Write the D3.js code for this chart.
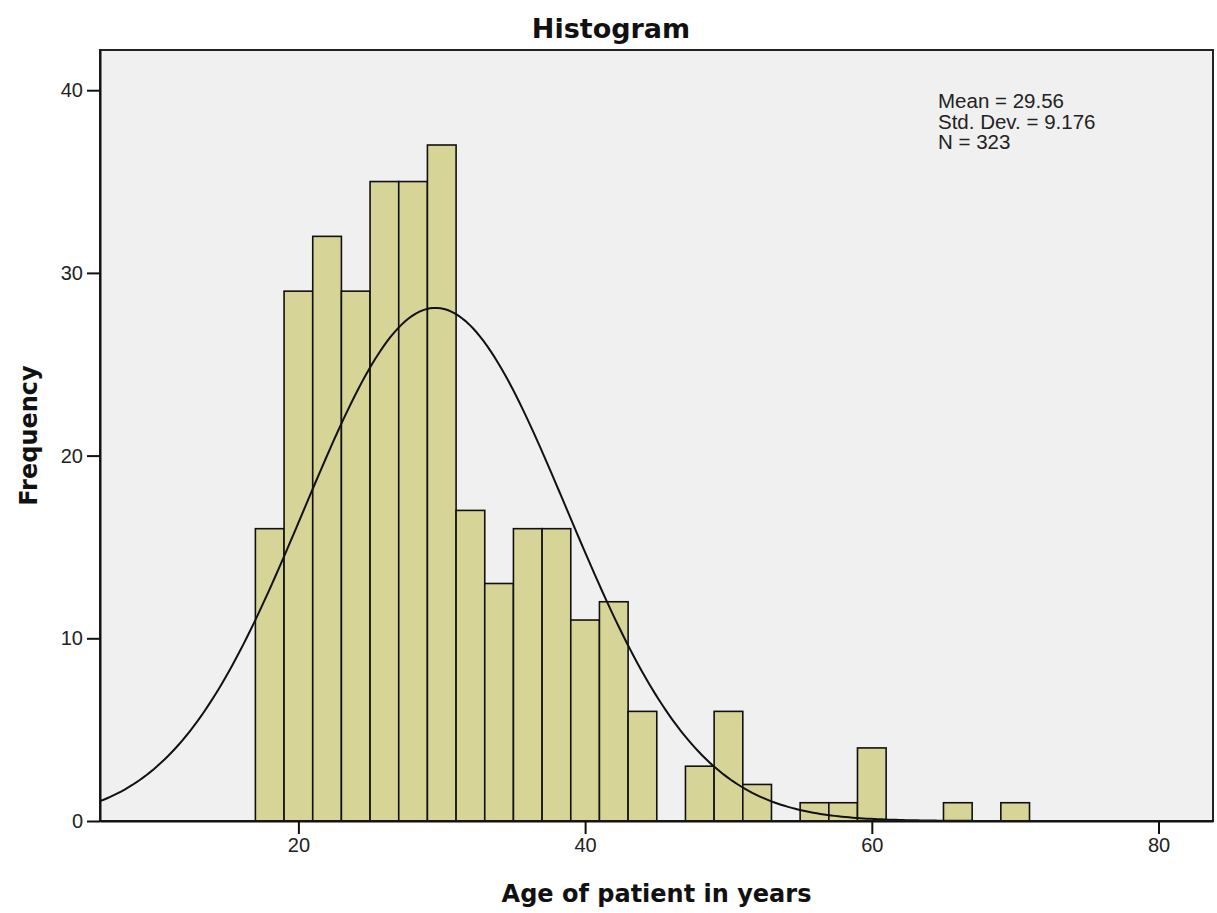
<!DOCTYPE html>
<html>
<head>
<meta charset="utf-8">
<script src="https://cdn.jsdelivr.net/npm/d3@7"></script>
<style>
  html, body { margin: 0; padding: 0; background: #ffffff; }
  svg { display: block; }
</style>
</head>
<body>
<svg id="chart" width="1217" height="913"></svg>
<script>
// ---- Data ----
const binStarts = [17, 19, 21, 23, 25, 27, 29, 31, 33, 35, 37, 39, 41, 43, 45, 47, 49, 51, 53, 55, 57, 59, 61, 63, 65, 67, 69];
const binCounts = [16, 29, 32, 29, 35, 35, 37, 17, 13, 16, 16, 11, 12, 6, 0, 3, 6, 2, 0, 1, 1, 4, 0, 0, 1, 0, 1];
const binWidth = 2;
const xTicks = [20, 40, 60, 80];
const yTicks = [0, 10, 20, 30, 40];
const statsLines = ["Mean = 29.56", "Std. Dev. = 9.176", "N = 323"];
const meanVal = 29.56, sdVal = 9.176, nVal = 323;

// ---- Layout ----
const svg = d3.select("#chart");
const plot = { left: 100, right: 1213, top: 50, bottom: 821 };

const x = d3.scaleLinear().domain([6.16, 83.8]).range([plot.left, plot.right]);
const y = d3.scaleLinear().domain([0, 42.2]).range([plot.bottom, plot.top]);

// plot background
svg.append("rect")
  .attr("x", plot.left).attr("y", plot.top)
  .attr("width", plot.right - plot.left).attr("height", plot.bottom - plot.top)
  .attr("fill", "#f0f0f0");

// bars
const bins = binStarts.map((s, i) => ({ x0: s, x1: s + binWidth, n: binCounts[i] })).filter(d => d.n > 0);
svg.append("g").selectAll("rect").data(bins).join("rect")
  .attr("x", d => x(d.x0))
  .attr("y", d => y(d.n))
  .attr("width", d => x(d.x1) - x(d.x0))
  .attr("height", d => y(0) - y(d.n))
  .attr("fill", "#d6d597")
  .attr("stroke", "#111")
  .attr("stroke-width", 1.6);

// normal curve from displayed statistics
const curveXs = d3.range(6.16, 83.8, 0.25);
const normal = v => nVal * binWidth / (sdVal * Math.sqrt(2 * Math.PI)) * Math.exp(-0.5 * ((v - meanVal) / sdVal) ** 2);
svg.append("path")
  .datum(curveXs)
  .attr("fill", "none")
  .attr("stroke", "#111")
  .attr("stroke-width", 2)
  .attr("d", d3.line().x(d => x(d)).y(d => y(normal(d))));

// frame (top & right)
svg.append("rect")
  .attr("x", plot.left).attr("y", plot.top)
  .attr("width", plot.right - plot.left).attr("height", plot.bottom - plot.top)
  .attr("fill", "none").attr("stroke", "#222").attr("stroke-width", 2);

// axes
const xAxis = svg.append("g")
  .attr("transform", `translate(0,${plot.bottom})`)
  .call(d3.axisBottom(x).tickValues(xTicks).tickSize(13).tickSizeOuter(0).tickPadding(4).tickFormat(d3.format("d")));
const yAxis = svg.append("g")
  .attr("transform", `translate(${plot.left},0)`)
  .call(d3.axisLeft(y).tickValues(yTicks).tickSize(13).tickSizeOuter(0).tickPadding(4).tickFormat(d3.format("d")));

[xAxis, yAxis].forEach(g => {
  g.select(".domain").attr("stroke", "#111").attr("stroke-width", 2);
  g.selectAll(".tick line").attr("stroke", "#111").attr("stroke-width", 2);
  g.selectAll(".tick text")
    .attr("fill", "#222")
    .style("font-family", "'Liberation Sans', Arial, sans-serif")
    .style("font-size", "20px");
});

// stats text
const stats = svg.append("text")
  .attr("x", 938).attr("y", 108)
  .attr("fill", "#222")
  .style("font-family", "'Liberation Sans', Arial, sans-serif")
  .style("font-size", "20.5px");
stats.selectAll("tspan").data(statsLines).join("tspan")
  .attr("x", 938)
  .attr("dy", (d, i) => i === 0 ? 0 : 20.5)
  .text(d => d);

// titles
svg.append("text")
  .attr("x", 611).attr("y", 38)
  .attr("text-anchor", "middle")
  .attr("fill", "#111")
  .style("font-family", "'DejaVu Sans', Verdana, sans-serif")
  .style("font-weight", "bold")
  .style("font-size", "27px")
  .text("Histogram");

svg.append("text")
  .attr("x", (plot.left + plot.right) / 2).attr("y", 902)
  .attr("text-anchor", "middle")
  .attr("fill", "#111")
  .style("font-family", "'DejaVu Sans', Verdana, sans-serif")
  .style("font-weight", "bold")
  .style("font-size", "24px")
  .text("Age of patient in years");

svg.append("text")
  .attr("transform", `translate(37,${(plot.top + plot.bottom) / 2}) rotate(-90)`)
  .attr("text-anchor", "middle")
  .attr("fill", "#111")
  .style("font-family", "'DejaVu Sans', Verdana, sans-serif")
  .style("font-weight", "bold")
  .style("font-size", "24px")
  .text("Frequency");
</script>
</body>
</html>
